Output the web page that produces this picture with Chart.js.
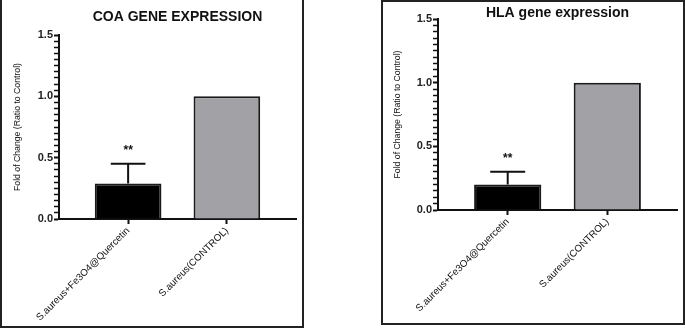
<!DOCTYPE html>
<html>
<head>
<meta charset="utf-8">
<script src="https://cdn.jsdelivr.net/npm/chart.js@4.4.1/dist/chart.umd.min.js"></script>
<style>
  body { margin: 0; background: #fff; width: 685px; height: 330px; position: relative; overflow: hidden; }
  .panel { position: absolute; box-sizing: border-box; border: 2px solid #222; }
  canvas { position: absolute; }
</style>
</head>
<body>
<div class="panel" style="left:0;top:-3px;width:304px;height:331px;"></div>
<div class="panel" style="left:381px;top:0;width:304px;height:325px;"></div>
<canvas id="coa-chart" width="298" height="326" style="left:3px;top:0;"></canvas>
<canvas id="hla-chart" width="298" height="318" style="left:384px;top:3px;"></canvas>
<script>
// values
const categories = ['S.aureus+Fe3O4@Quercetin', 'S.aureus(CONTROL)'];
const barColors = ['#000000', '#a2a1a6'];

const coaValues = [0.29, 1.0];
const coaErrors = [0.16, 0];
const coaMarks = ['**', ''];

const hlaValues = [0.2, 1.0];
const hlaErrors = [0.1, 0];
const hlaMarks = ['**', ''];

// y axis: labelled ticks plus small ticks in between
const yTicks = [0, 0.5, 1.0, 1.5];
const yMinorPerMajor = 10;

const FONT = "'Liberation Sans', Arial, sans-serif";

// every tick position on the y axis, labelled ones flagged as major
const yAllTicks = [];
yTicks.forEach((v, k) => {
    yAllTicks.push({ value: v, major: true });
    if (k < yTicks.length - 1) {
        for (let j = 1; j < yMinorPerMajor; j++) {
            yAllTicks.push({ value: v + (yTicks[k + 1] - v) * j / yMinorPerMajor, major: false });
        }
    }
});

/**
 * Draws the upward SD bars and the significance stars
 */
const errorBarPlugin = {
    id: 'errorBars',
    afterDatasetsDraw(chart, args, opts) {
        const { ctx, scales: { x, y } } = chart;
        const meta = chart.getDatasetMeta(0);
        ctx.save();
        ctx.strokeStyle = '#111';
        ctx.lineWidth = 2;
        opts.values.forEach((v, i) => {
            const err = opts.errors[i];
            const cx = x.getPixelForValue(i);
            const top = y.getPixelForValue(v + err);
            if (err > 0) {
                const half = meta.data[i].width * 0.26;
                ctx.beginPath();
                ctx.moveTo(cx, y.getPixelForValue(v));
                ctx.lineTo(cx, top);
                ctx.moveTo(cx - half, top);
                ctx.lineTo(cx + half, top);
                ctx.stroke();
            }
            if (opts.marks[i]) {
                ctx.fillStyle = '#111';
                ctx.font = 'bold 12px ' + FONT;
                ctx.textAlign = 'center';
                ctx.textBaseline = 'alphabetic';
                ctx.fillText(opts.marks[i], cx, top - 10);
            }
        });
        ctx.restore();
    }
};

function makeChart(canvasId, title, values, errors, marks, dims) {
    const ctx = document.getElementById(canvasId).getContext('2d');
    return new Chart(ctx, {
        type: 'bar',
        data: {
            datasets: [{
                data: values.map((v, i) => ({ x: i, y: v })),
                backgroundColor: barColors,
                borderColor: '#1a1a1a',
                borderWidth: 2,
                barPercentage: 0.675,
                categoryPercentage: 1
            }]
        },
        options: {
            responsive: false,
            animation: false,
            layout: { padding: { left: 0, right: 5, top: 0, bottom: 0 } },
            plugins: {
                legend: { display: false },
                tooltip: { enabled: false },
                title: {
                    display: true,
                    text: title,
                    fullSize: false,
                    color: '#111',
                    font: { family: FONT, size: 14, weight: 'bold', lineHeight: 1.2 },
                    padding: dims.titlePadding
                },
                errorBars: { values, errors, marks }
            },
            scales: {
                x: {
                    type: 'linear',
                    min: -0.7,
                    max: 1.7,
                    offset: false,
                    afterBuildTicks: s => { s.ticks = categories.map((_, i) => ({ value: i })); },
                    afterFit: s => { s.height = dims.xHeight; },
                    grid: { offset: false, drawOnChartArea: false, tickLength: 5, tickColor: '#111', tickWidth: 2 },
                    border: { display: true, color: '#111', width: 2 },
                    ticks: {
                        autoSkip: false,
                        minRotation: 45,
                        maxRotation: 45,
                        padding: 1,
                        color: '#111',
                        font: { family: FONT, size: 9.8 },
                        callback: v => categories[v]
                    }
                },
                y: {
                    min: yTicks[0],
                    max: yTicks[yTicks.length - 1],
                    afterBuildTicks: s => { s.ticks = yAllTicks.map(t => ({ value: t.value, major: t.major })); },
                    afterFit: s => { s.width = dims.yWidth; },
                    grid: {
                        drawOnChartArea: false,
                        tickLength: 5,
                        tickColor: '#111',
                        tickWidth: c => (c.tick && c.tick.major) ? 2 : 1.5
                    },
                    border: { display: true, color: '#111', width: 2 },
                    title: {
                        display: true,
                        text: 'Fold of Change (Ratio to Control)',
                        color: '#111',
                        font: { family: FONT, size: 8.7 },
                        padding: { top: dims.yTitleTop, bottom: 0 }
                    },
                    ticks: {
                        autoSkip: false,
                        padding: 1,
                        color: '#222',
                        font: { family: FONT, size: 11, weight: 'bold' },
                        callback: (v, i, ticks) => ticks[i].major ? v.toFixed(1) : ''
                    }
                }
            }
        },
        plugins: [errorBarPlugin]
    });
}

makeChart('coa-chart', 'COA GENE EXPRESSION', coaValues, coaErrors, coaMarks,
    { titlePadding: { top: 8.6, bottom: 9.6 }, xHeight: 107, yWidth: 56, yTitleTop: 8.9 });
makeChart('hla-chart', 'HLA gene expression', hlaValues, hlaErrors, hlaMarks,
    { titlePadding: { top: 2, bottom: -2.8 }, xHeight: 111, yWidth: 54, yTitleTop: 7.9 });
</script>
</body>
</html>
